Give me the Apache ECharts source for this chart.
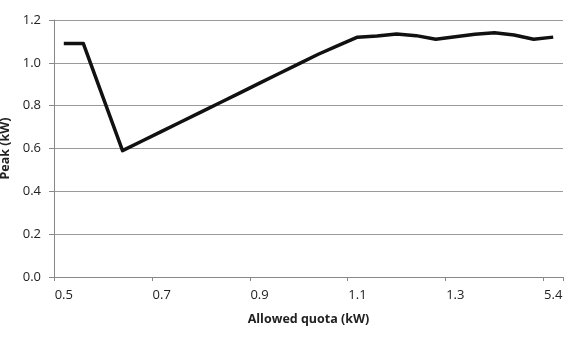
<!DOCTYPE html>
<html>
<head>
<meta charset="utf-8">
<script src="https://cdn.jsdelivr.net/npm/echarts@6/dist/echarts.min.js"></script>
<style>
html,body{margin:0;padding:0;background:#fff;}
#main{width:568px;height:340px;}
</style>
</head>
<body>
<div id="main"></div>
<script>
// x categories (kW), labels shown every 5th
var quota = ['0.5','0.54','0.58','0.62','0.66','0.7','0.74','0.78','0.82','0.86',
	'0.9','0.94','0.98','1.02','1.06','1.1','1.14','1.18','1.22','1.26',
	'1.3','1.34','1.38','1.42','1.46','5.4'];
// peak values
var peak = [1.09,1.09,0.84,0.59,0.635,0.68,0.725,0.77,0.815,0.86,
	0.905,0.95,0.995,1.04,1.08,1.12,1.125,1.135,1.127,1.11,
	1.122,1.133,1.14,1.13,1.11,1.12];

var myChart = echarts.init(document.getElementById('main'));
var font = 'Open Sans, Liberation Sans, sans-serif';
var option = {
	animation: false,
	grid: {left: 54, right: 5, top: 20, bottom: 63, containLabel: false, outerBoundsMode: 'none'},
	xAxis: {
		type: 'category',
		data: quota,
		boundaryGap: true,
		name: 'Allowed quota (kW)',
		nameLocation: 'middle',
		nameGap: 36,
		nameTextStyle: {fontFamily: font, fontSize: 12.5, fontWeight: 'bold', color: '#222'},
		axisLine: {lineStyle: {color: '#888', width: 1}},
		axisTick: {show: true, interval: 4, length: 4, lineStyle: {color: '#888'}},
		axisLabel: {interval: 4, fontFamily: font, fontSize: 13, color: '#222', margin: 12}
	},
	yAxis: {
		type: 'value',
		min: 0,
		max: 1.2,
		interval: 0.2,
		name: 'Peak (kW)',
		nameLocation: 'middle',
		nameGap: 42,
		nameTextStyle: {fontFamily: font, fontSize: 12.5, fontWeight: 'bold', color: '#222'},
		axisLine: {show: true, lineStyle: {color: '#888', width: 1}},
		axisTick: {show: true, length: 5, lineStyle: {color: '#888'}},
		axisLabel: {
			fontFamily: font, fontSize: 13, color: '#222', margin: 13,
			formatter: function(v){ return v.toFixed(1); }
		},
		splitLine: {show: true, lineStyle: {color: '#999', width: 1}}
	},
	series: [{
		type: 'line',
		data: peak,
		smooth: false,
		symbol: 'none',
		lineStyle: {color: '#111', width: 3.5, join: 'round'}
	}]
};
myChart.setOption(option);
</script>
</body>
</html>
